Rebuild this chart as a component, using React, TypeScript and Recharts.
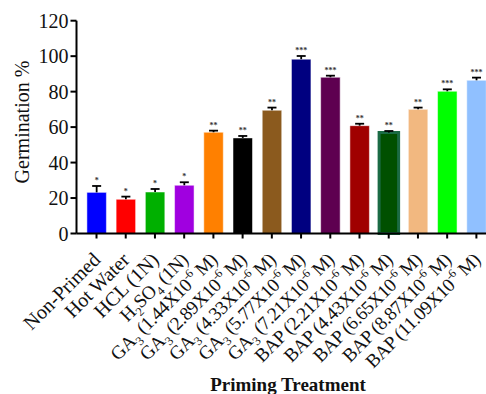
import { BarChart, Bar, XAxis, YAxis, LabelList, Cell } from 'recharts';

// treatments along the x axis
const treatments = [
  'Non-Primed', 'Hot Water', 'HCL (1N)', 'H2SO4 (1N)',
  'GA3 (1.44)', 'GA3 (2.89)', 'GA3 (4.33)', 'GA3 (5.77)', 'GA3 (7.21)',
  'BAP (2.21)', 'BAP (4.43)', 'BAP (6.65)', 'BAP (8.87)', 'BAP (11.09)',
];
const germination = [23.2, 19.3, 23.4, 27.2, 57.1, 53.9, 69.5, 98.3, 88.1, 60.8, 56.9, 70.0, 80.2, 86.4];
const sem = [3.6, 1.5, 1.7, 1.7, 0.9, 1.1, 1.5, 1.8, 0.9, 1.1, 0.9, 1.0, 1.1, 1.5];
const stars = ['*', '*', '*', '*', '**', '**', '**', '***', '***', '**', '**', '**', '***', '***'];
const yTicks = [0, 20, 40, 60, 80, 100, 120];

const fills = [
  '#0000ff', '#ff0000', '#00b000', '#a000e0', '#ff8000', '#000000', '#8b5a1e',
  '#000080', '#5e0050', '#a00000', '#005000', '#f2b880', '#00ff00', '#90c0ff',
];

const data = treatments.map((t, i) => ({ name: t, value: germination[i], star: stars[i] }));

const FONT = '"Liberation Serif", "DejaVu Serif", serif';
const PX_PER_UNIT = 212.8 / 120;

// rich tick label: subscripts and the 10^-6 superscript
function labelParts(name: string) {
  if (name === 'Non-Primed' || name === 'Hot Water' || name === 'HCL (1N)') return [{ t: name }];
  if (name === 'H2SO4 (1N)') {
    return [{ t: 'H' }, { t: '2', sub: true }, { t: 'SO' }, { t: '4', sub: true }, { t: ' (1N)' }];
  }
  const m = name.match(/^(GA3|BAP) \((.+)\)$/)!;
  const head = m[1] === 'GA3' ? [{ t: 'GA' }, { t: '3', sub: true }] : [{ t: 'BAP' }];
  return [...head, { t: ` (${m[2]}X10` }, { t: '-6', sup: true }, { t: ' M)' }];
}

function XTick({ x, y, payload }: any) {
  const parts: any[] = labelParts(payload.value);
  const long = parts.length > 3;
  const fsMain = long ? 19 : 20;
  let shift = 0;
  return (
    <g transform={`translate(${x + 5},${y + 20.5}) rotate(-45)`}>
      <text textAnchor="end" fontFamily={FONT} fontSize={fsMain} fill="#111" letterSpacing={long ? -0.4 : 0}>
        {parts.map((p, i) => {
          let dy = 0;
          let fs = fsMain;
          if (p.sub) { dy = 5 - shift; shift = 5; fs = 12.5; }
          else if (p.sup) { dy = -8 - shift; shift = -8; fs = 12; }
          else { dy = -shift; shift = 0; }
          return <tspan key={i} dy={dy} fontSize={fs}>{p.t}</tspan>;
        })}
      </text>
    </g>
  );
}

// upper error whisker with cap, and the significance stars above it
function ErrAndStar({ x, y, width, index }: any) {
  const cx = x + width / 2;
  const top = y - sem[index] * PX_PER_UNIT;
  return (
    <g>
      <line x1={cx} x2={cx} y1={y} y2={top} stroke="#000" strokeWidth={1.8} />
      <line x1={cx - 4.5} x2={cx + 4.5} y1={top} y2={top} stroke="#000" strokeWidth={1.8} />
      <text x={cx} y={top - 3} textAnchor="middle" fontSize={8} fontWeight="bold" fontFamily={FONT} fill="#333">
        {stars[index]}
      </text>
    </g>
  );
}

export default function App() {
  return (
    <div style={{ position: 'absolute', left: 0, top: 0, width: 486, height: 394, overflow: 'hidden', background: '#fff' }}>
      <BarChart
        width={500}
        height={394}
        data={data}
        margin={{ top: 20.7, right: 4, left: 0, bottom: 0 }}
        barSize={19.5}
      >
        <XAxis
          dataKey="name"
          height={160.5}
          interval={0}
          padding={{ left: 5.4, right: 5 }}
          axisLine={{ stroke: '#000', strokeWidth: 2 }}
          tickLine={{ stroke: '#000', strokeWidth: 2 }}
          tickSize={5}
          tick={<XTick />}
        />
        <YAxis
          width={76.5}
          domain={[0, 120]}
          ticks={yTicks}
          interval={0}
          axisLine={{ stroke: '#000', strokeWidth: 2 }}
          tickLine={{ stroke: '#000', strokeWidth: 2 }}
          tickSize={6}
          tick={{ fontSize: 20, fill: '#111', fontFamily: FONT }}
        />
        <Bar dataKey="value" isAnimationActive={false}>
          {data.map((d, i) => (
            <Cell
              key={d.name}
              fill={fills[i]}
              stroke={i === 10 ? '#1b6b45' : '#ffffff'}
              strokeOpacity={i === 10 ? 1 : 0.5}
              strokeWidth={i === 10 ? 3 : 1}
            />
          ))}
          <LabelList dataKey="star" content={<ErrAndStar />} />
        </Bar>
      </BarChart>
      <div
        style={{
          position: 'absolute', left: 22, top: 122, transform: 'translate(-50%, -50%) rotate(-90deg)',
          fontFamily: FONT, fontSize: 20, color: '#111', whiteSpace: 'nowrap',
        }}
      >
        Germination %
      </div>
      <div
        style={{
          position: 'absolute', left: 288, top: 385, transform: 'translate(-50%, -50%)',
          fontFamily: FONT, fontSize: 19, fontWeight: 'bold', color: '#111', whiteSpace: 'nowrap',
        }}
      >
        Priming Treatment
      </div>
    </div>
  );
}
